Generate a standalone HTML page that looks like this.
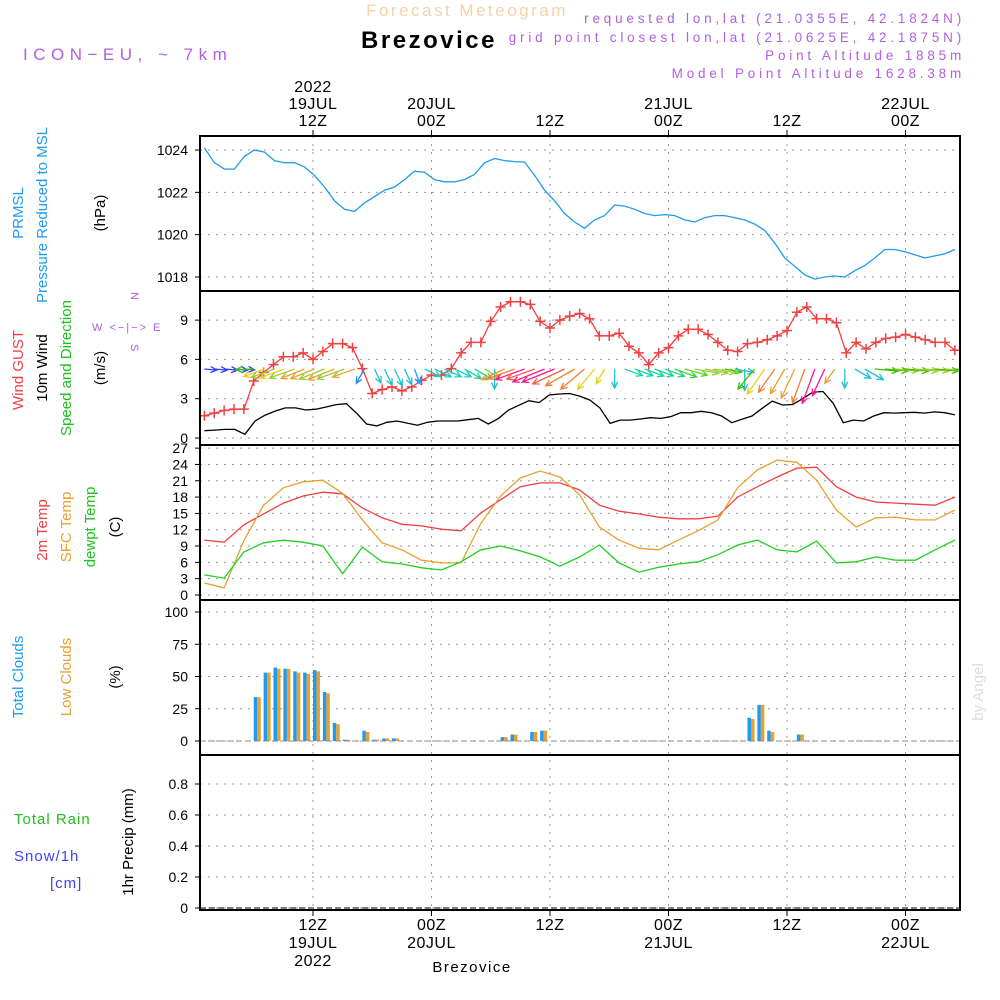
<!DOCTYPE html>
<html><head><meta charset="utf-8"><style>
body{margin:0;background:#fff;width:1000px;height:1000px;overflow:hidden}
svg{display:block}
text{font-family:"Liberation Sans",sans-serif}
</style></head><body>
<svg id="chart" width="1000" height="1000" viewBox="0 0 1000 1000">
<defs><clipPath id="plotclip"><rect x="200" y="136" width="760" height="774"/></clipPath></defs>
<g id="g"></g>
</svg>
<script>
const gustVals=[1.7,1.9,2.1,2.2,2.2,4.35,5.0,5.6,6.2,6.2,6.5,6.0,6.6,7.2,7.2,6.9,5.3,3.4,3.7,3.9,3.6,3.9,4.4,4.8,4.8,5.3,6.5,7.3,7.3,8.9,10.0,10.4,10.4,10.2,8.9,8.4,9.0,9.3,9.5,9.1,7.8,7.8,8.0,7.0,6.5,5.6,6.5,6.9,7.8,8.3,8.3,7.9,7.3,6.7,6.6,7.2,7.3,7.5,7.8,8.2,9.6,10.0,9.1,9.1,8.8,6.5,7.3,6.8,7.3,7.6,7.7,7.9,7.7,7.5,7.3,7.3,6.7];
const windVals=[0.56,0.6,0.66,0.66,0.28,1.3,1.75,2.06,2.3,2.3,2.14,2.2,2.37,2.55,2.62,1.9,1.07,0.92,1.2,1.3,1.14,0.98,1.2,1.3,1.3,1.3,1.4,1.5,1.07,1.5,2.14,2.5,2.85,2.7,3.28,3.36,3.4,3.2,2.9,2.3,1.12,1.37,1.37,1.45,1.55,1.5,1.63,1.93,1.93,2.04,1.93,1.68,1.17,1.43,1.68,2.27,2.82,2.52,2.56,3.0,3.5,3.55,2.65,1.17,1.37,1.3,1.68,1.93,1.9,1.93,1.96,1.9,1.99,1.93,1.76];
const windDir=[5,5,5,5,5,178,160,160,160,160,158,158,158,158,160,160,120,65,65,65,65,70,25,25,25,25,30,30,30,90,155,160,160,160,158,158,155,150,140,130,120,90,20,20,20,20,20,20,15,10,10,10,10,10,90,130,125,125,120,115,110,110,115,125,90,30,30,5,5,5,5,5,5,5,5,5];
const windCol=["#3040ff","#3040ff","#3040ff","#3040ff","#3040ff","#40c000","#e8d020","#9acd32","#e8d020","#9acd32","#e8a030","#e8a030","#9acd32","#e8a030","#9acd32","#e8a030","#1e90ff","#20c0d0","#20c0d0","#20c0d0","#20c0d0","#1ea0ff","#20c8c8","#20c8c8","#20c8c8","#20c8c8","#20d0a0","#20d0a0","#9acd32","#20c0d0","#e8a030","#f08030","#ff1493","#f06040","#ff1493","#ff1493","#f06040","#f08030","#f08030","#e8d020","#e8d020","#20c0d0","#20d0b0","#20d0b0","#20d0a0","#20d0a0","#30d080","#40d040","#60d030","#9acd32","#9acd32","#9acd32","#40c000","#20c0d0","#20c0d0","#40c000","#e8d020","#f08030","#e8a030","#e8a030","#f08030","#ff1493","#ff1493","#e8a030","#20c0d0","#20c0d0","#20c0d0","#40c000","#40c000","#9acd32","#40c000","#9acd32","#9acd32","#40c000","#9acd32","#40c000"];
const presVals=[1024.1,1023.4,1023.1,1023.1,1023.7,1024,1023.9,1023.5,1023.4,1023.4,1023.2,1022.8,1022.25,1021.6,1021.2,1021.1,1021.5,1021.8,1022.1,1022.25,1022.6,1023,1022.95,1022.6,1022.5,1022.5,1022.6,1022.85,1023.4,1023.6,1023.5,1023.45,1023.43,1022.8,1022.1,1021.6,1021,1020.6,1020.3,1020.7,1020.9,1021.4,1021.35,1021.2,1021,1020.9,1020.95,1020.9,1020.7,1020.6,1020.8,1020.9,1020.9,1020.8,1020.7,1020.5,1020.2,1019.6,1018.9,1018.5,1018.1,1017.9,1018,1018.05,1018,1018.3,1018.55,1018.9,1019.3,1019.3,1019.2,1019.05,1018.9,1019,1019.1,1019.3];
const t2mVals=[10.1,9.7,12.9,14.9,16.9,18.2,18.9,18.6,16,14.2,13,12.7,12.1,11.8,15.1,17.5,19.9,20.6,20.6,19.3,16.5,15.4,14.9,14.3,14,14,14.5,18,19.9,21.7,23.3,23.5,19.9,18,17.1,16.9,16.7,16.5,18];
const sfcVals=[2.2,1.3,10,16.5,19.7,20.8,21.1,18.7,13.8,9.6,8.3,6.4,5.9,5.9,13.2,18.2,21.5,22.8,21.7,18.4,12.5,10.1,8.6,8.3,10.1,11.8,13.8,19.7,23,24.8,24.4,21.1,15.6,12.5,14.2,14.3,13.8,13.8,15.6];
const dewVals=[3.7,3.1,7.9,9.6,10.1,9.7,9,3.9,8.8,6.1,5.7,5,4.6,6.1,8.3,9,8.1,7,5.3,7,9.2,5.9,4.2,5.1,5.7,6.1,7.4,9.2,10.1,8.3,7.9,9.9,5.9,6.1,7,6.4,6.4,8.3,10.1];
const cloudHours=[6,7,8,9,10,11,12,13,14,15,17,18,19,20,31,32,34,35,56,57,58,61];
const totalClouds=[34,53,57,56,54,53,55,38,14,1,8,1,2,2,3,5,7,8,18,28,8,5];
const lowClouds=[34,53,56,56,53,52,54,37,13,1,7,1,2,2,3,5,7,8,17,28,7,5];
const presTicks=[1018,1020,1022,1024];
const windTicks=[0,3,6,9];
const tempTicks=[0,3,6,9,12,15,18,21,24,27];
const cloudTicks=[0,25,50,75,100];
const precTicks=["0","0.2","0.4","0.6","0.8"];
const timeTicks=[12,24,36,48,60,72];
const topLabels=[["2022","19JUL","12Z"],["","20JUL","00Z"],["","","12Z"],["","21JUL","00Z"],["","","12Z"],["","22JUL","00Z"]];
const botLabels=[["12Z","19JUL","2022"],["00Z","20JUL",""],["12Z","",""],["00Z","21JUL",""],["12Z","",""],["00Z","22JUL",""]];

const NS="http://www.w3.org/2000/svg";
const G=document.getElementById('g');
function mk(tag,attrs,parent){const e=document.createElementNS(NS,tag);for(const k in attrs)e.setAttribute(k,attrs[k]);(parent||G).appendChild(e);return e;}
const X=t=>313+(t-12)*9.875;
const yP=v=>150+(1024-v)*21.17;
const yW=v=>438-v*13.1;
const yT=v=>595-v*5.44;
const yC=v=>741-v*1.29;
const yR=v=>908-v*155;
const L=200,R=960;
const panels=[[136,291],[291,445],[445,600],[600,755],[755,910]];
const spread=(arr,t0,t1)=>arr.map((_,i)=>t0+i*(t1-t0)/(arr.length-1));

function hgrid(y){const e=mk('line',{x1:L,x2:R,y1:y,y2:y,stroke:'#999','stroke-dasharray':'2,6','stroke-width':1});
}
function tick(y,label){const e=mk('text',{x:188,y:y+5,'text-anchor':'end','font-size':14,fill:'#000'});e.textContent=label;

mk('line',{x1:L-5,x2:L,y1:y,y2:y,stroke:'#000'});}
presTicks.forEach(v=>{hgrid(yP(v));tick(yP(v),v);});
windTicks.forEach(v=>{hgrid(yW(v));tick(yW(v),v);});
tempTicks.forEach(v=>{hgrid(yT(v));tick(yT(v),v);});
cloudTicks.forEach(v=>{hgrid(yC(v));tick(yC(v),v);});
precTicks.forEach(v=>{hgrid(yR(+v));tick(yR(+v),v);});
timeTicks.forEach(t=>{const e=mk('line',{x1:X(t),x2:X(t),y1:136,y2:910,stroke:'#999','stroke-dasharray':'2,6'});

mk('line',{x1:X(t),x2:X(t),y1:130,y2:136,stroke:'#000'});mk('line',{x1:X(t),x2:X(t),y1:910,y2:916,stroke:'#000'});});
timeTicks.forEach((t,i)=>{topLabels[i].forEach((s,j)=>{if(!s)return;const e=mk('text',{x:X(t),y:92+j*17,'text-anchor':'middle','font-size':16,fill:'#000','letter-spacing':'0.5'});e.textContent=s;
});
botLabels[i].forEach((s,j)=>{if(!s)return;const e=mk('text',{x:X(t),y:930+j*18,'text-anchor':'middle','font-size':16,fill:'#000','letter-spacing':'0.5'});e.textContent=s;
});});

const clipG=mk('g',{'clip-path':'url(#plotclip)'});
function line(ts,vals,yf,color,name){const d=vals.map((v,i)=>(i?'L':'M')+X(ts[i]).toFixed(1)+','+yf(v).toFixed(1)).join('');
const e=mk('path',{d:d,fill:'none',stroke:color,'stroke-width':1.3},clipG);return e;}
line(spread(presVals,1,77),presVals,yP,'#1e9bf0','pressure-line');
const gh=spread(gustVals,1,77);
line(gh,gustVals,yW,'#f04040','gust-line');
gustVals.forEach((v,i)=>{const x=X(gh[i]),y=yW(v);const p=mk('path',{d:`M${x-5},${y}h10M${x},${y-5}v10`,stroke:'#f04040','stroke-width':1.5},clipG);
});
line(spread(windVals,1,77),windVals,yW,'#000','wind-speed-line');
const wh=spread(windDir,1,77);
windDir.forEach((a,i)=>{const x0=X(wh[i]),y0=369;const len=8+windVals[Math.min(i,windVals.length-1)]*8;const r=a*Math.PI/180;
const x1=x0+len*Math.cos(r),y1=y0+len*Math.sin(r);const c=windCol[i]||'#40c000';
const h1=r+Math.PI-0.45,h2=r+Math.PI+0.45;
const p=mk('path',{d:`M${x0},${y0}L${x1},${y1}M${x1+7*Math.cos(h1)},${y1+7*Math.sin(h1)}L${x1},${y1}L${x1+7*Math.cos(h2)},${y1+7*Math.sin(h2)}`,stroke:c,fill:'none','stroke-width':1.3},clipG);
});
const th=t2mVals.map((_,i)=>1+i*2);
line(th,t2mVals,yT,'#f04040','temp-2m-line');
line(th,sfcVals,yT,'#e8a030','temp-sfc-line');
line(th,dewVals,yT,'#20d020','dewpoint-line');
cloudHours.forEach((h,i)=>{const x=X(h);
const b=mk('rect',{x:x,y:yC(totalClouds[i]),width:3.5,height:741-yC(totalClouds[i]),fill:'#1e9bf0'});
const o=mk('rect',{x:x+3.5,y:yC(lowClouds[i]),width:3.5,height:741-yC(lowClouds[i]),fill:'#e8a030'});});
mk('line',{x1:L,x2:R,y1:741,y2:741,stroke:'#888','stroke-dasharray':'6,3'});
mk('line',{x1:L,x2:R,y1:908,y2:908,stroke:'#000','stroke-dasharray':'6,3'});
panels.forEach(p=>{const r=mk('rect',{x:L,y:p[0],width:R-L,height:p[1]-p[0],fill:'none',stroke:'#000','stroke-width':2});
});
</script>
<svg style="position:absolute;left:0;top:0" width="1000" height="1000">
<text x="467" y="16" text-anchor="middle" font-size="17" fill="#f5d2a8" letter-spacing="2.5">Forecast Meteogram</text>
<g font-size="13.5" fill="#b060e0" text-anchor="end" letter-spacing="3.8">
<text x="965" y="23">requested lon,lat (21.0355E, 42.1824N)</text>
<text x="965" y="42">grid point closest lon,lat (21.0625E, 42.1875N)</text>
<text x="965" y="60">Point Altitude 1885m</text>
<text x="965" y="78">Model Point Altitude 1628.38m</text>
</g>
<rect x="350" y="24" width="158" height="28" fill="#fff"/>
<text x="429" y="48" text-anchor="middle" font-size="24" font-weight="bold" fill="#000" letter-spacing="2.5">Brezovice</text>
<text x="23" y="60" font-size="17" fill="#b060e0" letter-spacing="5.5">ICON−EU, ~ 7km</text>
<g font-size="15">
<text transform="translate(23,213) rotate(-90)" text-anchor="middle" fill="#1e9bf0">PRMSL</text>
<text transform="translate(47,215) rotate(-90)" text-anchor="middle" fill="#1e9bf0">Pressure Reduced to MSL</text>
<text transform="translate(105,213) rotate(-90)" text-anchor="middle" fill="#000">(hPa)</text>
<text transform="translate(23,370) rotate(-90)" text-anchor="middle" fill="#f04040">Wind GUST</text>
<text transform="translate(47,368) rotate(-90)" text-anchor="middle" fill="#000">10m Wind</text>
<text transform="translate(71,368) rotate(-90)" text-anchor="middle" fill="#20c020">Speed and Direction</text>
<text transform="translate(105,368) rotate(-90)" text-anchor="middle" fill="#000">(m/s)</text>
<text transform="translate(47,530) rotate(-90)" text-anchor="middle" fill="#f04040">2m Temp</text>
<text transform="translate(71,527) rotate(-90)" text-anchor="middle" fill="#e8a030">SFC Temp</text>
<text transform="translate(95,527) rotate(-90)" text-anchor="middle" fill="#20c020">dewpt Temp</text>
<text transform="translate(120,527) rotate(-90)" text-anchor="middle" fill="#000">(C)</text>
<text transform="translate(23,677) rotate(-90)" text-anchor="middle" fill="#1e9bf0">Total Clouds</text>
<text transform="translate(71,677) rotate(-90)" text-anchor="middle" fill="#e8a030">Low Clouds</text>
<text transform="translate(120,677) rotate(-90)" text-anchor="middle" fill="#000">(%)</text>
<text x="14" y="824" fill="#20c020" letter-spacing="1">Total  Rain</text>
<text x="14" y="861" fill="#4040ff" letter-spacing="1">Snow/1h</text>
<text x="50" y="888" fill="#4040ff" letter-spacing="1">[cm]</text>
<text transform="translate(133,842) rotate(-90)" text-anchor="middle" fill="#000">1hr Precip (mm)</text>
</g>
<g font-size="11" fill="#b060e0">
<text transform="translate(131,292) rotate(90)">N</text>
<text x="92" y="331" letter-spacing="2">W &lt;−|−&gt; E</text>
<text transform="translate(131,344) rotate(90)">S</text>
</g>
<text transform="translate(983,692) rotate(-90)" text-anchor="middle" font-family="Liberation Serif" font-size="15" fill="#ddd">by Angel</text>
<text x="472" y="972" text-anchor="middle" font-family="Liberation Serif" font-size="15" fill="#000" letter-spacing="1.5">Brezovice</text>
</svg>
</body></html>
